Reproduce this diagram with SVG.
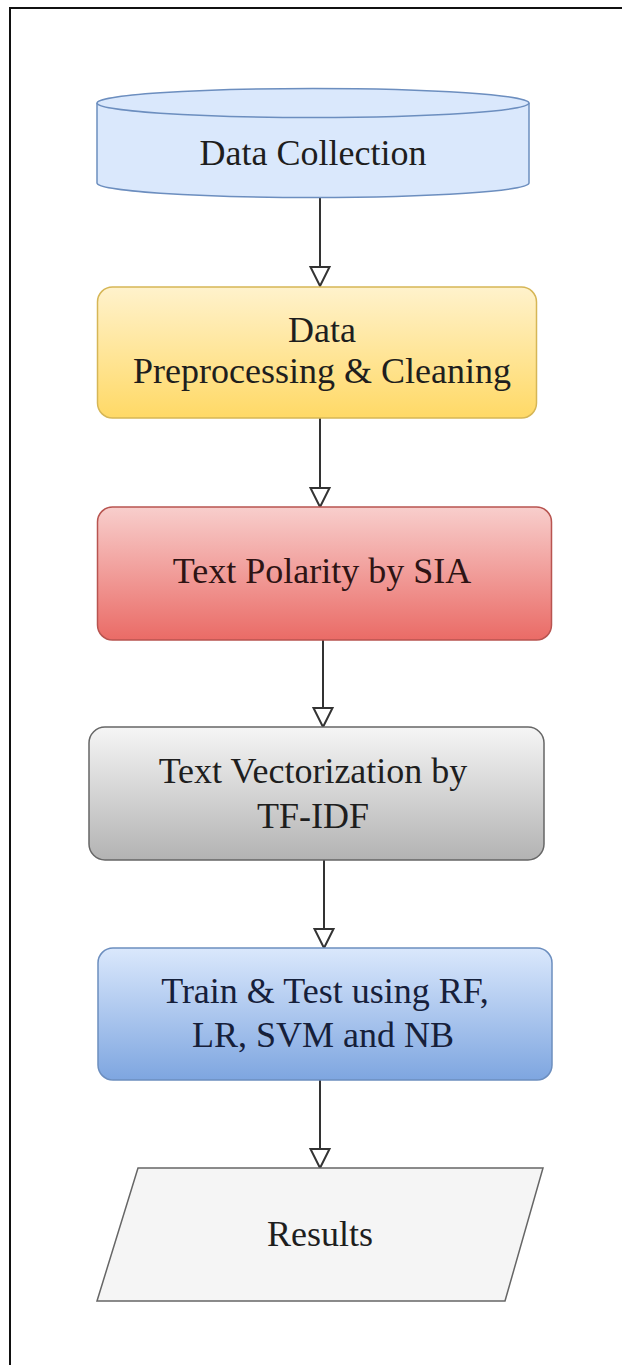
<svg xmlns="http://www.w3.org/2000/svg" width="622" height="1365" viewBox="0 0 622 1365">
<style>
.lbl{font-family:"Liberation Serif","DejaVu Serif","Times New Roman",serif;font-size:36px;text-anchor:middle;fill:#1e1e1e}
.conn{stroke:#333;stroke-width:2;fill:none}
</style>
<defs>
<linearGradient id="gY" x1="0" y1="0" x2="0" y2="1"><stop offset="0" stop-color="#fff2cc"/><stop offset="1" stop-color="#ffd966"/></linearGradient>
<linearGradient id="gR" x1="0" y1="0" x2="0" y2="1"><stop offset="0" stop-color="#f8cecc"/><stop offset="1" stop-color="#ea6b66"/></linearGradient>
<linearGradient id="gG" x1="0" y1="0" x2="0" y2="1"><stop offset="0" stop-color="#f5f5f5"/><stop offset="1" stop-color="#b3b3b3"/></linearGradient>
<linearGradient id="gB" x1="0" y1="0" x2="0" y2="1"><stop offset="0" stop-color="#dae8fc"/><stop offset="1" stop-color="#7ea6e0"/></linearGradient>
<marker id="arr" markerUnits="userSpaceOnUse" markerWidth="24" markerHeight="24" viewBox="-22 -12 24 24" refX="0" refY="0" orient="auto">
<path d="M0 0 L-19 -9.5 L-19 9.5 Z" fill="#fff" stroke="#333" stroke-width="2"/>
</marker>
</defs>
<rect width="622" height="1365" fill="#fff"/>
<path d="M10 1365 V8 H622" fill="none" stroke="#111" stroke-width="2"/>

<g id="connectors">
<line class="conn" x1="320" y1="198" x2="320" y2="286" marker-end="url(#arr)"/>
<line class="conn" x1="320" y1="418" x2="320" y2="507" marker-end="url(#arr)"/>
<line class="conn" x1="323" y1="640" x2="323" y2="727" marker-end="url(#arr)"/>
<line class="conn" x1="324" y1="860" x2="324" y2="948" marker-end="url(#arr)"/>
<line class="conn" x1="320" y1="1080" x2="320" y2="1168" marker-end="url(#arr)"/>
</g>

<g id="data-collection">
<path d="M97 103 V183 A216 14.5 0 0 0 529 183 V103" fill="#dae8fc" stroke="#6c8ebf" stroke-width="1.5"/>
<ellipse cx="313" cy="103" rx="216" ry="14.5" fill="#dae8fc" stroke="#6c8ebf" stroke-width="1.5"/>
<text class="lbl" x="313" y="165">Data Collection</text>
</g>

<g id="preprocessing">
<rect x="97.5" y="287" width="439" height="131" rx="15" fill="url(#gY)" stroke="#d6b656" stroke-width="1.5"/>
<text class="lbl" x="322" y="342">Data</text>
<text class="lbl" x="322" y="383">Preprocessing &amp; Cleaning</text>
</g>

<g id="polarity">
<rect x="97.5" y="507" width="454" height="133" rx="15" fill="url(#gR)" stroke="#b85450" stroke-width="1.5"/>
<text class="lbl" x="322" y="583" style="fill:#2e1414">Text Polarity by SIA</text>
</g>

<g id="vectorization">
<rect x="89" y="727" width="455" height="133" rx="16" fill="url(#gG)" stroke="#666" stroke-width="1.5"/>
<text class="lbl" x="313" y="783">Text Vectorization by</text>
<text class="lbl" x="313" y="828">TF-IDF</text>
</g>

<g id="train-test">
<rect x="98" y="948" width="454" height="132" rx="15" fill="url(#gB)" stroke="#6c8ebf" stroke-width="1.5"/>
<text class="lbl" x="325" y="1003" style="fill:#16203a">Train &amp; Test using RF,</text>
<text class="lbl" x="323" y="1047" style="fill:#16203a">LR, SVM and NB</text>
</g>

<g id="results">
<path d="M138 1168 H543 L505 1301 H97 Z" fill="#f5f5f5" stroke="#666" stroke-width="1.5"/>
<text class="lbl" x="320" y="1246">Results</text>
</g>
</svg>
